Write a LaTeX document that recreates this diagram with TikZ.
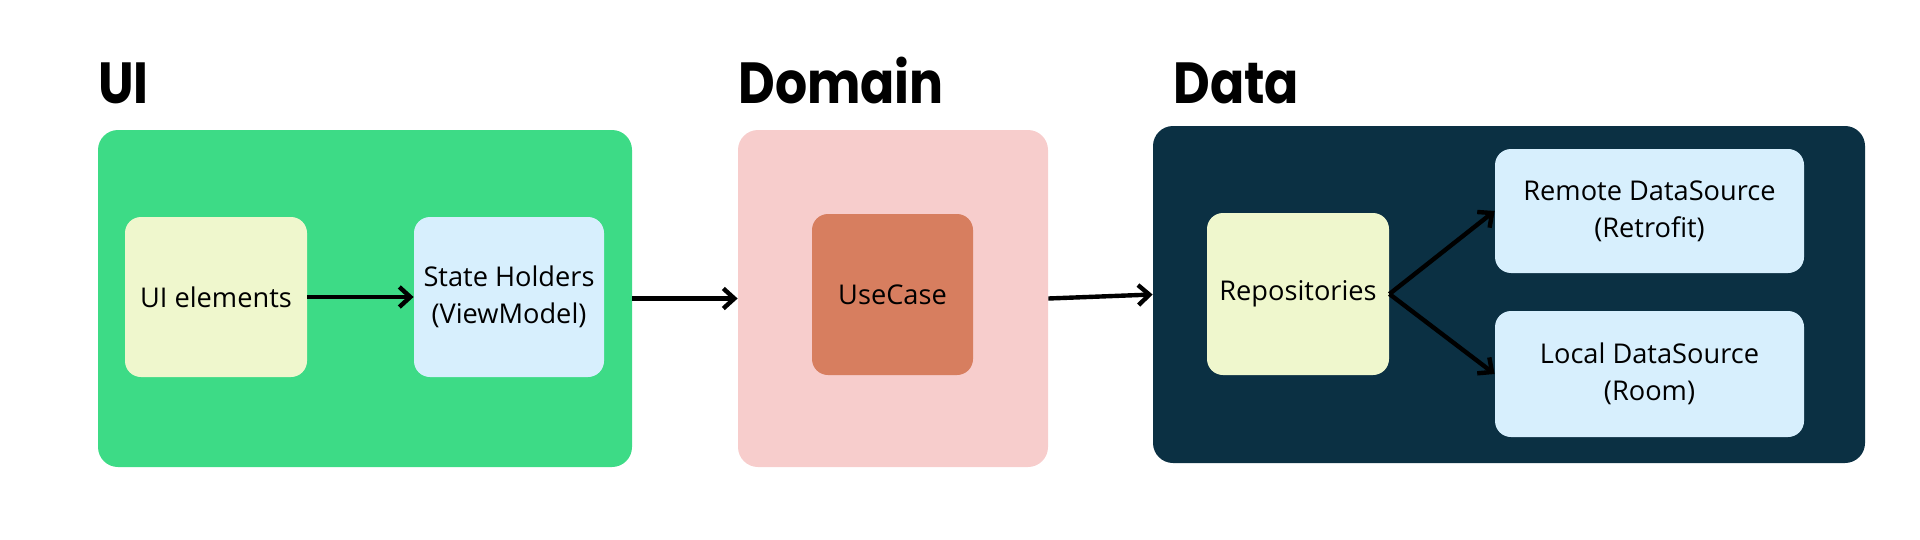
\documentclass[tikz,border=0pt]{standalone}
\usepackage{fontspec}
\usepackage{graphicx}
\setmainfont{Open Sans}
\newfontfamily\titlefont{Poppins}[UprightFont=* Bold]
\definecolor{uigreen}{HTML}{3DDB86}
\definecolor{domainpink}{HTML}{F7CDCC}
\definecolor{datanavy}{HTML}{0B3043}
\definecolor{boxyellow}{HTML}{EFF7CD}
\definecolor{boxblue}{HTML}{D7EFFD}
\definecolor{caseorange}{HTML}{D77E5F}
\newcommand{\layertitle}[1]{\scalebox{0.87}[1]{#1}}
\usetikzlibrary{arrows.meta, positioning}

\begin{document}
\begin{tikzpicture}[
                x=0.5pt, y=-0.5pt,
                layer/.style={rectangle, rounded corners=10pt, inner sep=0pt},
                block/.style={rectangle, rounded corners=8pt, inner sep=0pt, align=center, text=black, font=\fontsize{13.6}{18.5}\selectfont},
                heading/.style={anchor=base west, inner sep=0pt, font=\titlefont\fontsize{29}{30}\selectfont},
                arrow/.style={line width=2.2pt, -{Straight Barb[length=5.5pt, width=10pt, line width=2.2pt]}}
            ]%
            \useasboundingbox (0,0) rectangle (1920,540);
            %
            % Layer titles
            \node[heading] (uititle) at (98,104) {\layertitle{UI}};
            \node[heading] (domaintitle) at (738,104) {\layertitle{Domain}};
            \node[heading] (datatitle) at (1173,104) {\layertitle{Data}};
            %
            % Layers
            \node[layer, fill=uigreen, minimum width=267pt, minimum height=168.5pt] (ui) at (365,298.5) {};
            \node[layer, fill=domainpink, minimum width=155pt, minimum height=168.5pt] (domain) at (893,298.5) {};
            \node[layer, fill=datanavy, minimum width=356pt, minimum height=168.5pt] (data) at (1509,294.5) {};
            %
            % UI layer
            \node[block, fill=boxyellow, minimum width=91pt, minimum height=80pt] (elements) at (216,297) {UI elements};
            \node[block, fill=boxblue, minimum width=95pt, minimum height=80pt] (holders) at (509,297) {State Holders\\(ViewModel)};
            %
            % Domain layer
            \node[block, fill=caseorange, minimum width=80.5pt, minimum height=80.5pt] (usecase) at (892.5,294.5) {UseCase};
            %
            % Data layer
            \node[block, fill=boxyellow, minimum width=91pt, minimum height=81pt] (repos) at (1298,294) {Repositories};
            \node[block, fill=boxblue, minimum width=154.5pt, minimum height=62pt] (remote) at (1649.5,211) {Remote DataSource\\(Retrofit)};
            \node[block, fill=boxblue, minimum width=154.5pt, minimum height=63pt] (local) at (1649.5,374) {Local DataSource\\(Room)};
            %
            % Connections
            \draw[arrow] (elements) -- (holders);
            \draw[arrow] (ui) -- (domain);
            \draw[arrow] (domain.east) -- (data.west);
            \draw[arrow] (repos.east) -- (remote.west);
            \draw[arrow] (repos.east) -- (local.west);
        \end{tikzpicture}
\end{document}
